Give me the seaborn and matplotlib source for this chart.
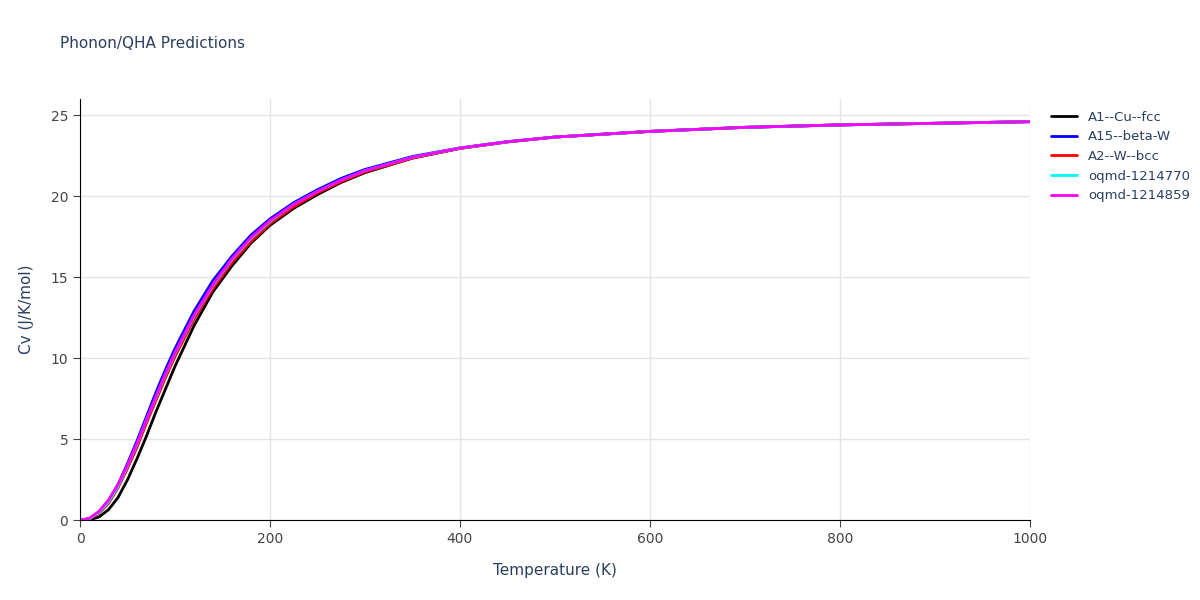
import matplotlib
matplotlib.use("Agg")
import pandas as pd
import seaborn as sns
import matplotlib.pyplot as plt

# Temperature grid (K)
temps = [0, 10, 20, 30, 40, 50, 60, 70, 80, 90, 100, 120, 140, 160, 180, 200,
         225, 250, 275, 300, 350, 400, 450, 500, 600, 700, 800, 900, 1000]

cv_cu_fcc = [0, 0.02, 0.2, 0.65, 1.4, 2.5, 3.8, 5.2, 6.7, 8.1, 9.5, 12.0, 14.1,
             15.7, 17.1, 18.2, 19.25, 20.1, 20.85, 21.45, 22.35, 22.95, 23.35, 23.65,
             24.0, 24.25, 24.4, 24.5, 24.6]
cv_beta_w = [0, 0.1, 0.5, 1.2, 2.2, 3.5, 4.9, 6.4, 7.9, 9.3, 10.6, 12.9, 14.8,
             16.3, 17.6, 18.6, 19.6, 20.4, 21.1, 21.65, 22.45, 22.98, 23.37, 23.65,
             24.0, 24.25, 24.4, 24.5, 24.6]
cv_w_bcc = [0, 0.08, 0.42, 1.05, 2.0, 3.2, 4.5, 6.0, 7.4, 8.8, 10.1, 12.4, 14.3,
            15.9, 17.2, 18.3, 19.35, 20.2, 20.9, 21.5, 22.35, 22.95, 23.35, 23.65,
            24.0, 24.25, 24.4, 24.5, 24.6]
cv_oqmd_770 = [0, 0.1, 0.48, 1.15, 2.1, 3.35, 4.7, 6.2, 7.6, 9.0, 10.3, 12.6, 14.5,
               16.1, 17.4, 18.45, 19.5, 20.3, 21.0, 21.58, 22.4, 22.97, 23.36, 23.65,
               24.0, 24.25, 24.4, 24.5, 24.6]
cv_oqmd_859 = [0, 0.12, 0.55, 1.25, 2.2, 3.4, 4.75, 6.2, 7.65, 9.05, 10.35, 12.65, 14.55,
               16.15, 17.45, 18.5, 19.5, 20.3, 21.0, 21.58, 22.4, 22.97, 23.36, 23.65,
               24.0, 24.25, 24.4, 24.5, 24.6]

series = {
    "A1--Cu--fcc": cv_cu_fcc,
    "A15--beta-W": cv_beta_w,
    "A2--W--bcc": cv_w_bcc,
    "oqmd-1214770": cv_oqmd_770,
    "oqmd-1214859": cv_oqmd_859,
}
colors = ["black", "blue", "red", "cyan", "magenta"]

df = pd.concat([pd.DataFrame({"T": temps, "Cv": v, "name": k}) for k, v in series.items()])

sns.set_style("white")
fig, ax = plt.subplots(figsize=(12, 6), dpi=100)
fig.subplots_adjust(left=0.0667, right=0.858, top=0.835, bottom=0.133)

sns.lineplot(data=df, x="T", y="Cv", hue="name", palette=colors, linewidth=2, ax=ax)

ax.set_xlim(0, 1000)
ax.set_ylim(0, 26)
ax.set_yticks([0, 5, 10, 15, 20, 25])
ax.set_xticks([0, 200, 400, 600, 800, 1000])
ax.grid(True, color="#e5e5e5", linewidth=1)
for s in ["top", "right"]:
    ax.spines[s].set_visible(False)
ax.spines["left"].set_color("black")
ax.spines["bottom"].set_color("black")
ax.tick_params(colors="#444444", labelsize=10, length=5, direction="out", bottom=True, left=True)
ax.set_xlabel("Temperature (K)", color="#2a3f5f", fontsize=11, labelpad=12)
ax.set_ylabel("Cv (J/K/mol)", color="#2a3f5f", fontsize=11, labelpad=12)
fig.text(0.05, 0.92, "Phonon/QHA Predictions", color="#2a3f5f", fontsize=11)

ax.legend(title=None, loc="upper left", bbox_to_anchor=(1.01, 1.0), frameon=False,
          fontsize=9.5, labelcolor="#2a3f5f")

fig.savefig("out.png")
